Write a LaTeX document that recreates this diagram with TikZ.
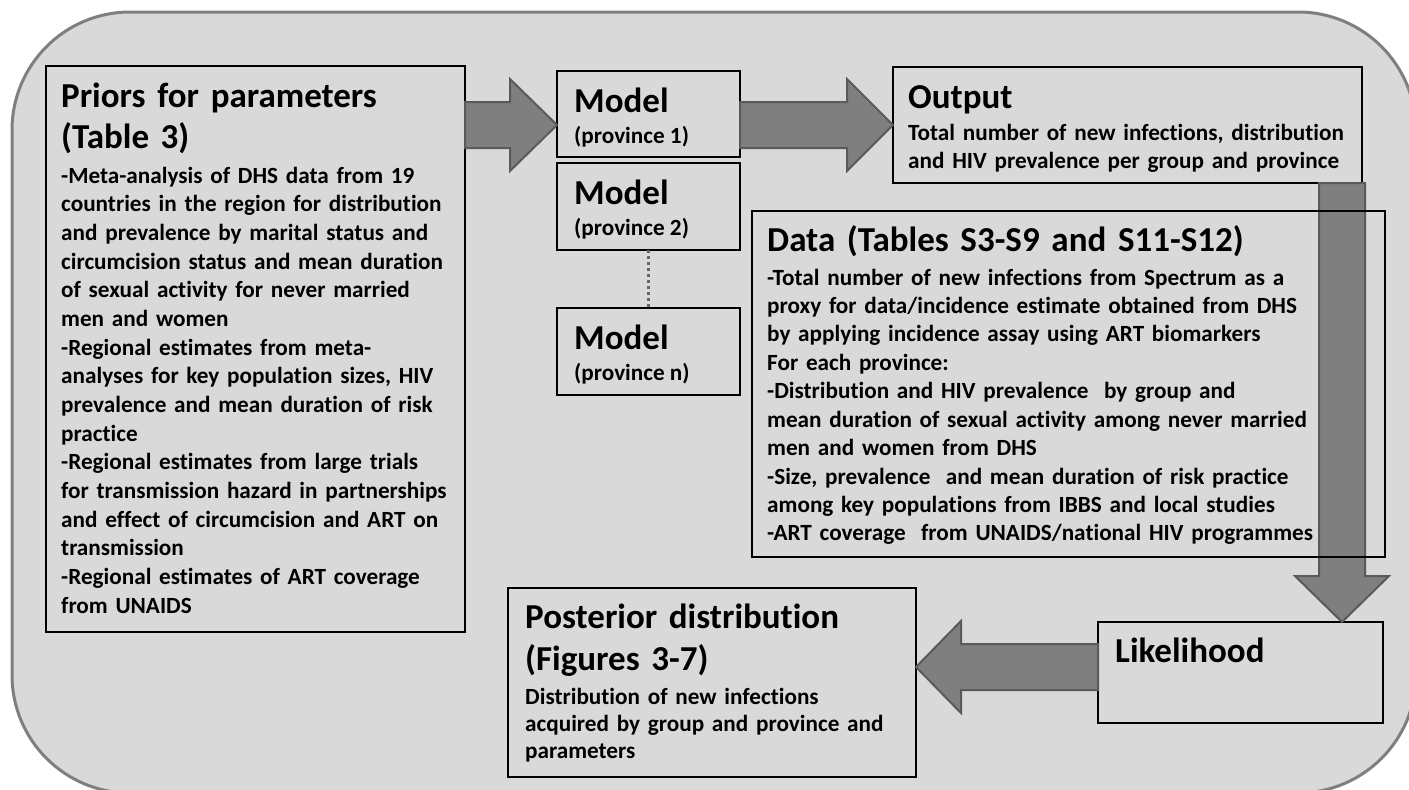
\documentclass[tikz,border=0pt]{standalone}
\usepackage{fontspec}
\setmainfont{Carlito}[Ligatures={TeX,NoCommon}]
\usetikzlibrary{calc}

\definecolor{panelfill}{HTML}{D9D9D9}
\definecolor{panelline}{HTML}{7F7F7F}
\definecolor{arrowfill}{HTML}{7F7F7F}
\definecolor{arrowline}{HTML}{5A5A5A}
\definecolor{dotline}{HTML}{666666}

\tikzset{
  panel/.style={draw=panelline, line width=3pt, fill=panelfill, rounded corners=118pt},
  box/.style={draw=black, line width=2.4pt, rectangle, inner sep=0pt, outer sep=0pt, anchor=north west},
  blockarrow/.style={draw=arrowline, line width=2pt, fill=arrowfill, line join=miter},
  headtxt/.style={anchor=base west, inner sep=0pt, align=left, text width=460pt,
    font=\bfseries\fontsize{35}{41}\selectfont},
  bodytxt/.style={anchor=base west, inner sep=0pt, align=left, text width=620pt,
    font=\bfseries\fontsize{23.2}{28.67}\selectfont},
  subtxt/.style={anchor=base west, inner sep=0pt,
    font=\bfseries\fontsize{23.2}{28}\selectfont},
}

\begin{document}
\begin{tikzpicture}[x=1pt, y=-1pt]
\useasboundingbox (0,0) rectangle (1409,790);

% grey rounded panel behind everything (runs off the right and bottom edge)
\path[panel] (12,12) rectangle (1416,793);

% boxes
\node[box, minimum width=419pt, minimum height=566pt] (priors) at (46,66) {};
\node[box, minimum width=183pt, minimum height=86pt] (model1) at (557,71) {};
\node[box, minimum width=183pt, minimum height=87pt] (model2) at (557,163) {};
\node[box, minimum width=183pt, minimum height=87pt] (modeln) at (557,308) {};
\node[box, minimum width=469pt, minimum height=116pt] (output) at (893,67) {};
\node[box, minimum width=285pt, minimum height=101pt] (likelihood) at (1098,622) {};
\node[box, minimum width=408pt, minimum height=189pt] (posterior) at (508,588) {};

% arrow anchor points
\coordinate (a1s) at ($(priors.north east)+(0,59)$);
\coordinate (a1t) at (model1.west |- a1s);
\coordinate (a2s) at (model1.east |- a1s);
\coordinate (a2t) at (output.west |- a1s);
\coordinate (a3s) at ($(output.south east)+(-20,0)$);
\coordinate (a3t) at (a3s |- likelihood.north);
\coordinate (a4s) at ($(likelihood.north west)+(0,45)$);
\coordinate (a4t) at (posterior.east |- a4s);

% block arrows
\draw[blockarrow] ($(a1s)+(0,-23)$) -- ($(a1t)+(-47,-23)$) -- ($(a1t)+(-47,-46)$) -- (a1t)
  -- ($(a1t)+(-47,46)$) -- ($(a1t)+(-47,23)$) -- ($(a1s)+(0,23)$) -- cycle;
\draw[blockarrow] ($(a2s)+(0,-23)$) -- ($(a2t)+(-46,-23)$) -- ($(a2t)+(-46,-46)$) -- (a2t)
  -- ($(a2t)+(-46,46)$) -- ($(a2t)+(-46,23)$) -- ($(a2s)+(0,23)$) -- cycle;
\draw[blockarrow] ($(a3s)+(-23,0)$) -- ($(a3t)+(-23,-46)$) -- ($(a3t)+(-47,-46)$) -- (a3t)
  -- ($(a3t)+(47,-46)$) -- ($(a3t)+(23,-46)$) -- ($(a3s)+(23,0)$) -- cycle;
\draw[blockarrow] ($(a4s)+(0,-23)$) -- ($(a4t)+(45,-23)$) -- ($(a4t)+(45,-46)$) -- (a4t)
  -- ($(a4t)+(45,46)$) -- ($(a4t)+(45,23)$) -- ($(a4s)+(0,23)$) -- cycle;

% data box is drawn after the down arrow so its frame lies on top of the shaft
\node[box, minimum width=633pt, minimum height=346pt] (data) at (752,211) {};

% dotted link between the province models
\draw[dotline, line width=3pt, dash pattern=on 3pt off 3pt] (model2.south) -- (modeln.north);

% texts
\node[headtxt] (priorsT) at (61,107) {Priors for parameters\\(Table 3)};
\node[bodytxt] (priorsB) at (61,183) {-Meta-analysis of DHS data from 19\\
countries in the region for distribution\\
and prevalence by marital status and\\
circumcision status and mean duration\\
of sexual activity for never married\\
men and women\\
-Regional estimates from meta-\\
analyses for key population sizes, HIV\\
prevalence and mean duration of risk\\
practice\\
-Regional estimates from large trials\\
for transmission hazard in partnerships\\
and effect of circumcision and ART on\\
transmission\\
-Regional estimates of ART coverage\\
from UNAIDS};

\node[headtxt] (model1T) at (574,112) {Model};
\node[subtxt] (model1S) at (574,143) {(province 1)};
\node[headtxt] (model2T) at (574,204) {Model};
\node[subtxt] (model2S) at (574,235) {(province 2)};
\node[headtxt] (modelnT) at (574,349) {Model};
\node[subtxt] (modelnS) at (574,380) {(province n)};

\node[headtxt] (outputT) at (908,108) {Output};
\node[bodytxt, font=\bfseries\fontsize{23.2}{28}\selectfont] (outputB) at (908,140)
  {Total number of new infections, distribution\\and HIV prevalence per group and province};

\node[headtxt, text width=600pt] (dataT) at (767,251) {Data (Tables S3-S9 and S11-S12)};
\node[bodytxt, font=\bfseries\fontsize{23.2}{28.44}\selectfont] (dataB) at (767,285)
  {-Total number of new infections from Spectrum as a\\
proxy for data/incidence estimate obtained from DHS\\
by applying incidence assay using ART biomarkers\\
For each province:\\
-Distribution and HIV prevalence\ \ by group and\\
mean duration of sexual activity among never married\\
men and women from DHS\\
-Size, prevalence\ \ and mean duration of risk practice\\
among key populations from IBBS and local studies\\
-ART coverage\ \ from UNAIDS/national HIV programmes};

\node[headtxt] (likelihoodT) at (1115,662) {Likelihood};

\node[headtxt, font=\bfseries\fontsize{35}{42}\selectfont] (posteriorT) at (525,628)
  {Posterior distribution\\(Figures 3-7)};
\node[bodytxt, font=\bfseries\fontsize{23.2}{27}\selectfont] (posteriorB) at (525,704)
  {Distribution of new infections\\acquired by group and province and\\parameters};
\end{tikzpicture}
\end{document}
